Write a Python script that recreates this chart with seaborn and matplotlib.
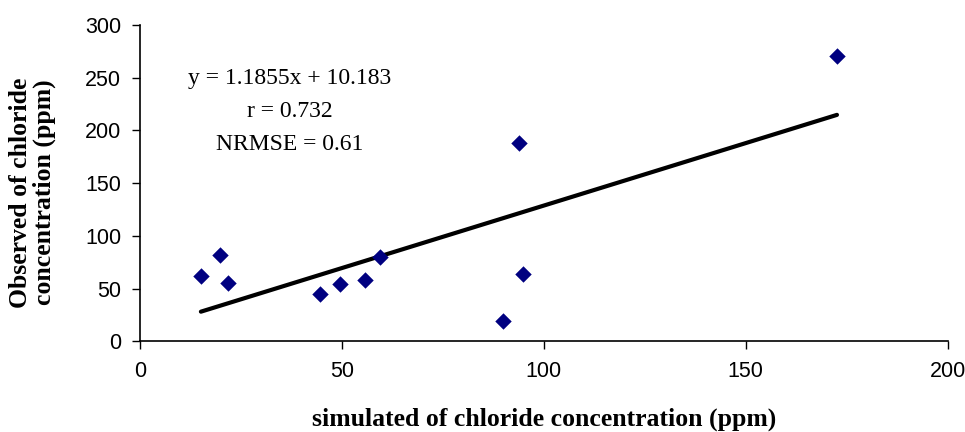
import numpy as np
import pandas as pd
import seaborn as sns
import matplotlib.pyplot as plt

# simulated vs observed chloride (ppm)
simulated = [15.1, 19.8, 21.9, 44.5, 49.5, 55.8, 59.4, 89.8, 93.8, 94.9, 172.6]
observed = [62, 82, 55, 45, 54, 58, 80, 19, 188, 64, 271]

slope = 1.1855
intercept = 10.183

df = pd.DataFrame({"sim": simulated, "obs": observed})

sns.set_style("ticks")
plt.rcParams["font.family"] = ["Liberation Sans", "DejaVu Sans"]
plt.rcParams["text.color"] = "black"
plt.rcParams["axes.labelcolor"] = "black"

fig, ax = plt.subplots(figsize=(9.65, 4.32), dpi=100)
fig.subplots_adjust(left=0.145, right=0.982, top=0.942, bottom=0.21)

# trend line over the data range
xs = np.array([df["sim"].min(), df["sim"].max()])
ax.plot(xs, slope * xs + intercept, color="black", lw=3, zorder=2)

sns.scatterplot(data=df, x="sim", y="obs", marker="D", s=70, color="#000080",
                edgecolor="#000080", linewidth=0, ax=ax, zorder=3)

ax.set_xlim(0, 200)
ax.set_ylim(0, 300)
ax.set_xticks(range(0, 201, 50))
ax.set_yticks(range(0, 301, 50))
ax.tick_params(labelsize=15.5, colors="black", length=5.5, width=1)
ax.tick_params(axis="x", pad=9)
ax.tick_params(axis="y", pad=8)
for sp in ["left", "bottom"]:
    ax.spines[sp].set_color("black")
    ax.spines[sp].set_linewidth(1.2)
sns.despine(ax=ax)

serif = ["Liberation Serif", "DejaVu Serif"]
ax.set_xlabel("simulated of chloride concentration (ppm)", family=serif,
              fontsize=18.5, fontweight="bold", labelpad=18)
ax.set_ylabel("Observed of chloride\nconcentration (ppm)", family=serif,
              fontsize=18.5, fontweight="bold", linespacing=1.05)
ax.yaxis.set_label_coords(-0.104, 0.47)

ax.text(37, 218, "y = 1.1855x + 10.183\nr = 0.732\nNRMSE = 0.61",
        family=serif, fontsize=17, ha="center", va="center", linespacing=1.72)

fig.savefig("out.png", dpi=100)
